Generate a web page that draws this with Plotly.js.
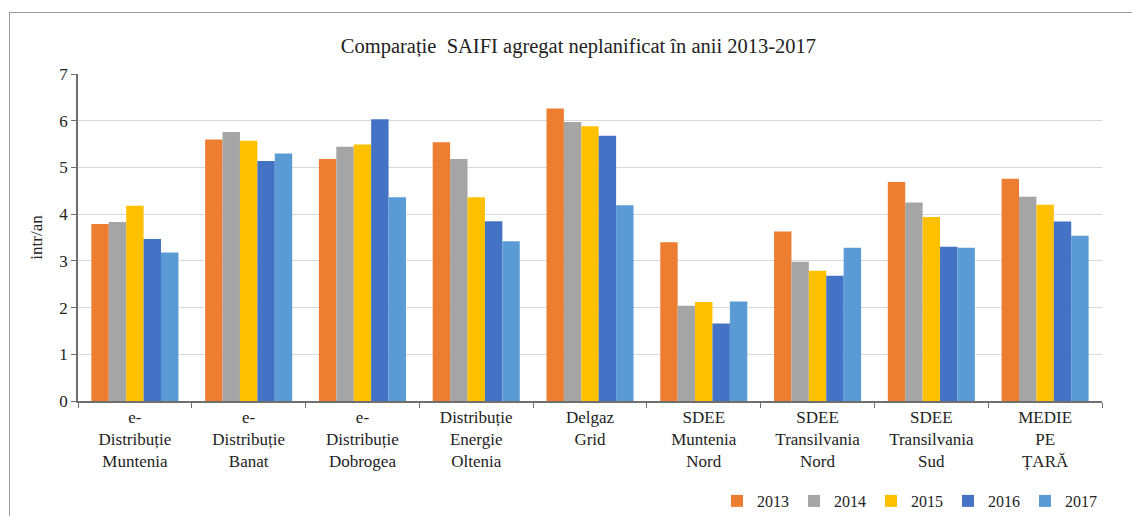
<!DOCTYPE html>
<html>
<head>
<meta charset="utf-8">
<script src="https://cdn.plot.ly/plotly-3.0.1.min.js"></script>
<style>
  html, body { margin: 0; background: #fff; overflow: hidden; width: 1132px; height: 516px; }
  #frame { position: absolute; left: 9px; top: 12px; width: 2000px; height: 1000px;
           border: 1px solid #9a9a9a; box-sizing: border-box; pointer-events: none; }
  #chart { position: absolute; left: 0; top: 0; width: 1132px; height: 516px; }
</style>
</head>
<body>
<div id="chart"></div>
<div id="frame"></div>
<script>
const operators = [
  'e-<br>Distribuție<br>Muntenia',
  'e-<br>Distribuție<br>Banat',
  'e-<br>Distribuție<br>Dobrogea',
  'Distribuție<br>Energie<br>Oltenia',
  'Delgaz<br>Grid',
  'SDEE<br>Muntenia<br>Nord',
  'SDEE<br>Transilvania<br>Nord',
  'SDEE<br>Transilvania<br>Sud',
  'MEDIE<br>PE<br>ȚARĂ'
];

const saifi2013 = [3.79, 5.60, 5.18, 5.54, 6.26, 3.40, 3.63, 4.69, 4.76];
const saifi2014 = [3.83, 5.76, 5.44, 5.18, 5.97, 2.04, 2.98, 4.25, 4.37];
const saifi2015 = [4.18, 5.57, 5.49, 4.36, 5.88, 2.12, 2.79, 3.94, 4.20];
const saifi2016 = [3.47, 5.14, 6.03, 3.85, 5.68, 1.66, 2.68, 3.30, 3.84];
const saifi2017 = [3.18, 5.30, 4.36, 3.42, 4.19, 2.13, 3.28, 3.28, 3.54];

const years = ['2013', '2014', '2015', '2016', '2017'];
const series = [saifi2013, saifi2014, saifi2015, saifi2016, saifi2017];
const colors = ['#ED7D31', '#A5A5A5', '#FFC000', '#4472C4', '#5B9BD5'];

const serifFamily = 'Liberation Serif';

const traces = series.map((vals, i) => ({
  x: operators,
  y: vals,
  type: 'bar',
  name: years[i],
  marker: { color: colors[i] }
}));

const layout = {
  width: 1132,
  height: 516,
  margin: { l: 78, r: 30, t: 74, b: 115 },
  paper_bgcolor: 'rgba(0,0,0,0)',
  plot_bgcolor: '#fff',
  font: { family: serifFamily, size: 17, color: '#222' },
  title: {
    text: 'Comparație \u00a0SAIFI agregat neplanificat în anii 2013-2017',
    font: { family: serifFamily, size: 20.5, color: '#222' },
    xref: 'container', x: 0.511, xanchor: 'center',
    yref: 'container', y: 1 - 46 / 516, yanchor: 'middle'
  },
  barmode: 'group',
  bargap: 0.235,
  bargroupgap: 0,
  xaxis: {
    type: 'category',
    showline: true, linecolor: '#6f6f6f', linewidth: 1.5,
    ticks: 'outside', tickson: 'boundaries', ticklen: 5, tickcolor: '#6f6f6f',
    tickfont: { family: serifFamily, size: 17, color: '#222' },
    showgrid: false
  },
  yaxis: {
    range: [0, 7],
    dtick: 1,
    showline: true, linecolor: '#6f6f6f', linewidth: 1.5,
    ticks: 'outside', ticklen: 5, tickcolor: '#6f6f6f',
    gridcolor: '#d9d9d9', gridwidth: 1,
    zeroline: false,
    tickfont: { family: serifFamily, size: 17, color: '#222' },
    title: { text: 'intr/an', font: { family: serifFamily, size: 17, color: '#222' }, standoff: 12 }
  },
  showlegend: true,
  legend: {
    orientation: 'h',
    xref: 'container', x: 1102 / 1132, xanchor: 'right',
    yref: 'container', y: 1 - 501 / 516, yanchor: 'middle',
    font: { family: serifFamily, size: 16, color: '#222' },
    itemwidth: 30,
    tracegroupgap: 0
  }
};

Plotly.newPlot('chart', traces, layout, { displayModeBar: false });
</script>
</body>
</html>
